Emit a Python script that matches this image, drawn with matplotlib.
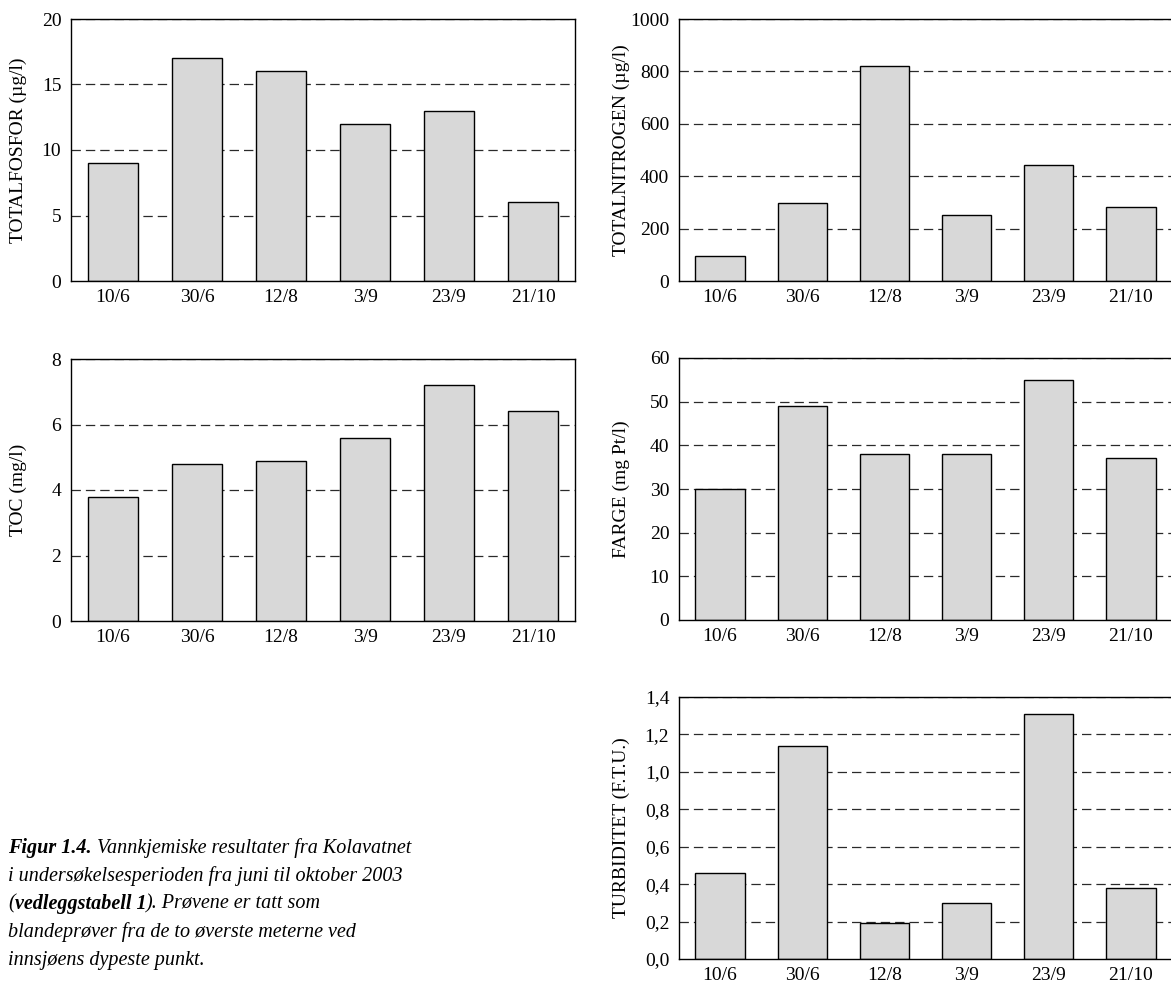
import matplotlib
matplotlib.use("Agg")
import matplotlib.pyplot as plt
from matplotlib.ticker import FixedLocator, FuncFormatter

plt.rcParams['font.family'] = ['Liberation Serif', 'DejaVu Serif']

dates = ["10/6", "30/6", "12/8", "3/9", "23/9", "21/10"]
fosfor = [9, 17, 16, 12, 13, 6]
nitrogen = [96, 296, 820, 252, 444, 282]
toc = [3.8, 4.8, 4.9, 5.6, 7.2, 6.4]
farge = [30, 49, 38, 38, 55, 37]
turb = [0.46, 1.14, 0.19, 0.30, 1.31, 0.38]

W, H = 1171, 986
fig = plt.figure(figsize=(W / 100, H / 100), dpi=100)

def px_axes(x0, top, w, h):
    return fig.add_axes([x0 / W, 1 - (top + h) / H, w / W, h / H])

panels = [
    (71, 19, 504, fosfor, "TOTALFOSFOR (\u00b5g/l)", [0, 5, 10, 15, 20], None, -0.087),
    (679, 19, 493, nitrogen, "TOTALNITROGEN (\u00b5g/l)", [0, 200, 400, 600, 800, 1000], None, -0.099),
    (71, 359, 504, toc, "TOC (mg/l)", [0, 2, 4, 6, 8], None, -0.087),
    (679, 358, 493, farge, "FARGE (mg Pt/l)", [0, 10, 20, 30, 40, 50, 60], None, -0.099),
    (679, 697, 493, turb, "TURBIDITET (F.T.U.)", [0, 0.2, 0.4, 0.6, 0.8, 1.0, 1.2, 1.4], "comma", -0.099),
]

for x0, top, w, vals, label, ticks, fmt, lx in panels:
    ax = px_axes(x0, top, w, 262)
    xs = list(range(len(dates)))
    ax.set_axisbelow(True)
    for t in ticks[1:]:
        ln = ax.axhline(t, color="#2a2a2a", lw=0.9, zorder=0.5)
        ln.set_dashes((7.5, 4.0))
    ax.bar(xs, vals, width=0.6, color="#d8d8d8", edgecolor="black", linewidth=1.0, zorder=2)
    ax.set_xlim(-0.5, len(dates) - 0.5)
    ax.set_ylim(ticks[0], ticks[-1])
    ax.set_xticks(xs)
    ax.set_xticklabels(dates)
    ax.yaxis.set_major_locator(FixedLocator(ticks))
    if fmt == "comma":
        ax.yaxis.set_major_formatter(FuncFormatter(lambda v, p: f"{v:.1f}".replace(".", ",")))
    else:
        ax.yaxis.set_major_formatter(FuncFormatter(lambda v, p: f"{v:g}"))
    ax.tick_params(axis="both", length=0, labelsize=14, colors="black")
    ax.tick_params(axis="y", pad=7)
    ax.tick_params(axis="x", pad=6)
    for s in ax.spines.values():
        s.set_linewidth(1.0)
        s.set_color("black")
        s.set_zorder(3)
    ax.set_ylabel(label, fontsize=14)
    ax.yaxis.set_label_coords(lx, 0.5)

# Caption with mixed bold-italic and italic runs
caption = [
    [("Figur 1.4.", "bold"), (" Vannkjemiske resultater fra Kolavatnet", "normal")],
    [("i unders\u00f8kelsesperioden fra juni til oktober 2003", "normal")],
    [("(", "normal"), ("vedleggstabell 1", "bold"), ("). Pr\u00f8vene er tatt som", "normal")],
    [("blandepr\u00f8ver fra de to \u00f8verste meterne ved", "normal")],
    [("innsj\u00f8ens dypeste punkt.", "normal")],
]
renderer = fig.canvas.get_renderer()
y0 = 848
for i, line in enumerate(caption):
    x = 8
    y = y0 + i * 28
    for txt, wt in line:
        t = fig.text(x / W, 1 - y / H, txt, fontsize=14.5, style="italic", weight=wt,
                     va="center", ha="left")
        bb = t.get_window_extent(renderer=renderer)
        x += bb.width

fig.savefig("out.png", dpi=100)
